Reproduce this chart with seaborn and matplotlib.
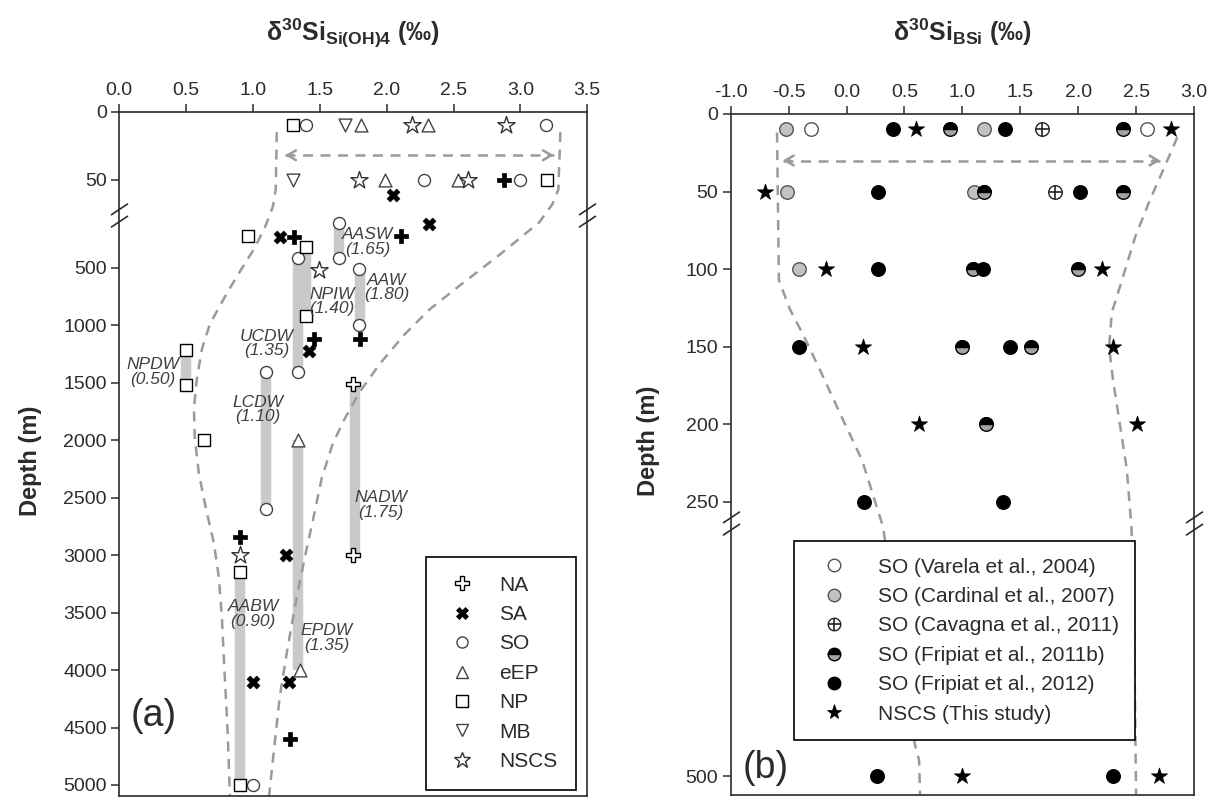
import numpy as np
import matplotlib
matplotlib.use("Agg")
import matplotlib.pyplot as plt
import matplotlib.transforms as mtransforms
from matplotlib.lines import Line2D
from matplotlib.markers import MarkerStyle
from matplotlib.path import Path
import seaborn as sns

# ---------------- panel (a): d30Si of dissolved Si(OH)4 ----------------
na_val = [2.88, 1.31, 2.11, 1.46, 1.80, 0.90, 1.28]
na_dep = [50, 230, 221, 1116, 1121, 2843, 4600]
na_open_val = [1.75, 1.75]
na_open_dep = [1510, 3000]
sa_val = [2.05, 2.32, 1.20, 1.42, 1.25, 1.00, 1.27]
sa_dep = [61, 123, 230, 1223, 3000, 4100, 4100]
so_val = [1.40, 3.19, 2.28, 3.00, 1.64, 1.34, 1.64, 1.79, 1.79, 1.10, 1.34, 1.10, 1.00]
so_dep = [10, 10, 50, 50, 109, 416, 416, 508, 1001, 1404, 1404, 2600, 5000]
eep_val = [1.81, 2.31, 1.99, 2.53, 1.34, 1.35]
eep_dep = [10, 10, 50, 50, 2000, 4000]
np_val = [1.30, 3.20, 0.96, 1.40, 1.40, 0.50, 0.50, 0.63, 0.90, 0.90]
np_dep = [10, 50, 221, 316, 921, 1214, 1519, 2000, 3143, 5000]
mb_val = [1.69, 1.30]
mb_dep = [10, 50]
nscs_a_val = [2.19, 2.89, 1.79, 2.61, 1.49, 0.90]
nscs_a_dep = [10, 10, 50, 50, 517, 3000]

# water masses (grey bars) and their labels
wm_names = ["AASW\n(1.65)", "NPIW\n(1.40)", "AAW\n(1.80)", "UCDW\n(1.35)", "NPDW\n(0.50)",
            "LCDW\n(1.10)", "NADW\n(1.75)", "EPDW\n(1.35)", "AABW\n(0.90)"]
wm_val = [1.64, 1.40, 1.80, 1.34, 0.50, 1.10, 1.76, 1.34, 0.90]
wm_top = [109, 316, 508, 416, 1214, 1404, 1510, 2000, 3143]
wm_bot = [416, 921, 1001, 1404, 1519, 2600, 3000, 4000, 5000]
wm_lab_x = [1.86, 1.59, 2.00, 1.10, 0.25, 1.035, 1.76, 1.55, 0.81]
wm_lab_d = [275, 794, 673, 1157, 1407, 1734, 2565, 3721, 3514]
wm_lab_ha = ["center", "center", "center", "center", "center", "center", "left", "center", "left"]

# dashed envelope, panel (a)
env_a_left_val = [1.178, 1.170, 1.148, 1.096, 1.013, 0.901, 0.812, 0.737, 0.677, 0.618,
                  0.580, 0.558, 0.565, 0.595, 0.647, 0.707, 0.745, 0.767, 0.789, 0.812, 0.827]
env_a_left_dep = [15, 57, 70, 129, 327, 535, 707, 863, 992, 1208,
                  1467, 1726, 1985, 2288, 2590, 2893, 3195, 3541, 4059, 4577, 5096]
env_a_right_val = [3.299, 3.284, 3.239, 3.142, 2.843, 2.507, 2.320, 2.134, 1.947, 1.798,
                   1.686, 1.597, 1.514, 1.447, 1.387, 1.327, 1.260, 1.200, 1.120]
env_a_right_dep = [15, 57, 68, 103, 388, 690, 863, 1079, 1338, 1580,
                   1813, 2029, 2331, 2702, 3022, 3368, 3800, 4231, 5096]
arrow_a_val = [1.24, 3.25]
arrow_a_dep = 32

# ---------------- panel (b): d30Si of biogenic silica ----------------
varela_val = [-0.31, 2.59]
varela_dep = [10, 10]
cardinal_val = [-0.52, 1.19, -0.51, 1.10, -0.41]
cardinal_dep = [10, 10, 50, 50, 100]
cavagna_val = [1.69, 1.80]
cavagna_dep = [10, 50]
frip11_val = [0.89, 2.39, 1.19, 2.39, 1.09, 2.00, 1.00, 1.59, 1.20]
frip11_dep = [10, 10, 50, 50, 100, 100, 150, 150, 200]
frip12_val = [0.40, 1.37, 0.27, 2.02, 0.27, 1.18, -0.41, 1.41, 0.15, 1.35, 0.26, 2.30]
frip12_dep = [10, 10, 50, 50, 100, 100, 150, 150, 250, 250, 500, 500]
nscs_b_val = [0.60, 2.80, -0.70, -0.18, 2.21, 0.14, 2.30, 0.63, 2.51, 1.00, 2.70]
nscs_b_dep = [10, 10, 50, 100, 100, 150, 150, 200, 200, 500, 500]

env_b_left_val = [-0.60, -0.584, -0.488, -0.376, -0.229, -0.056, 0.134, 0.316, 0.591, 0.626, 0.635]
env_b_left_dep = [12, 107, 126, 142, 165, 193, 223, 269, 471, 485, 517]
env_b_right_val = [2.856, 2.752, 2.622, 2.493, 2.362, 2.29, 2.267, 2.30, 2.36, 2.42, 2.46, 2.48, 2.50]
env_b_right_dep = [15, 33, 55, 79, 111, 128, 150, 171, 200, 229, 269, 336, 517]
arrow_b_val = [-0.55, 2.71]
arrow_b_dep = 30

# broken depth axes: piecewise linear scales
knots_a_dep = [-1000, 0, 79.16, 10000]
knots_a_t = [-1360, 0, 107.66, 98.56 + 0.11489 * 10000]
knots_b_dep = [-1000, 0, 260, 2000]
knots_b_t = [-1552, 0, 403.5, 403.5 + 1740 * 1.078]

GREY_LINE = "#9a9a9a"
BAR = "#c9c9c9"
INK = "#2b2b2b"

sns.set_style("ticks")
plt.rcParams["font.family"] = ["Liberation Sans", "DejaVu Sans"]
plt.rcParams["mathtext.default"] = "regular"


def piecewise_scale(kd, kt):
    fwd = lambda d: np.interp(d, kd, kt)
    inv = lambda t: np.interp(t, kt, kd)
    return fwd, inv


def dots(ax, xs, ds, marker, face, edge="black", size=70, lw=1.0, z=4):
    if MarkerStyle(marker).is_filled():
        sns.scatterplot(x=xs, y=ds, ax=ax, marker=marker, s=size, facecolor=face,
                        edgecolor=edge, linewidth=lw, zorder=z, legend=False)
    else:
        sns.scatterplot(x=xs, y=ds, ax=ax, marker=marker, s=size, color=face,
                        linewidth=lw, zorder=z, legend=False)


def style_axis(ax, xlim, xticks, ylim, yticks, knots, title):
    fwd, inv = piecewise_scale(*knots)
    ax.set_yscale("function", functions=(fwd, inv))
    ax.set_xlim(*xlim)
    ax.set_ylim(*ylim)
    ax.set_xticks(xticks, [f"{v:.1f}" for v in xticks])
    ax.set_yticks(yticks, [str(v) for v in yticks])
    ax.xaxis.tick_top()
    ax.xaxis.set_label_position("top")
    ax.tick_params(axis="both", direction="out", length=6, width=1.1,
                   labelsize=14, colors=INK, pad=3)
    ax.minorticks_off()
    for s in ax.spines.values():
        s.set_visible(True)
        s.set_linewidth(1.2)
        s.set_color(INK)
    ax.set_xlabel(title, fontsize=18, fontweight="bold", color=INK)
    ax.set_ylabel("Depth (m)", fontsize=17, fontweight="bold", color=INK)


def break_marks(ax, dep):
    verts = [(-9, 0.5), (9, 12.5), (-9, -12.5), (9, -0.5)]
    codes = [Path.MOVETO, Path.LINETO, Path.MOVETO, Path.LINETO]
    trans = mtransforms.blended_transform_factory(ax.transAxes, ax.transData)
    ax.plot([0, 1], [dep, dep], transform=trans, linestyle="none",
            marker=Path(verts, codes), markersize=17, markeredgewidth=1.2,
            color=INK, clip_on=False, zorder=6)


def dashed_arrow(ax, xs, dep):
    ax.plot(xs, [dep, dep], color=GREY_LINE, lw=1.8, ls=(0, (4, 3)), zorder=2)
    span = xs[1] - xs[0]
    for a, b in [(xs[0], xs[0] + 0.02 * span), (xs[1], xs[1] - 0.02 * span)]:
        ax.annotate("", xy=(a, dep), xytext=(b, dep),
                    arrowprops=dict(arrowstyle="->,head_length=0.6,head_width=0.35",
                                    color=GREY_LINE, lw=1.8, shrinkA=0, shrinkB=0),
                    zorder=2)


fig = plt.figure(figsize=(12.26, 7.98), dpi=100)
ax_a = fig.add_axes([0.0973, 0.0025, 0.3817, 0.8575])
ax_b = fig.add_axes([0.596, 0.0038, 0.3779, 0.8534])

# ---------------- panel (a) ----------------
style_axis(ax_a, (0, 3.5), [0, 0.5, 1.0, 1.5, 2.0, 2.5, 3.0, 3.5], (5096, 0),
           [0, 50, 500, 1000, 1500, 2000, 2500, 3000, 3500, 4000, 4500, 5000],
           (knots_a_dep, knots_a_t), r"$\delta^{30}Si_{Si(OH)4}$ (‰)")

ax_a.vlines(wm_val, wm_top, wm_bot, colors=BAR, linewidth=7.5, zorder=1)
ax_a.plot(env_a_left_val, env_a_left_dep, color=GREY_LINE, lw=1.8, ls=(0, (4, 3)), zorder=2)
ax_a.plot(env_a_right_val, env_a_right_dep, color=GREY_LINE, lw=1.8, ls=(0, (4, 3)), zorder=2)
dashed_arrow(ax_a, arrow_a_val, arrow_a_dep)

dots(ax_a, na_val, na_dep, "P", "black", size=95, lw=0.5)
dots(ax_a, na_open_val, na_open_dep, "P", "white", size=95, lw=1.0)
dots(ax_a, sa_val, sa_dep, "X", "black", size=85, lw=0.5)
dots(ax_a, so_val, so_dep, "o", "white", edge="#444444", size=75)
dots(ax_a, eep_val, eep_dep, "^", "white", edge="#444444", size=85)
dots(ax_a, np_val, np_dep, "s", "white", edge="black", size=75)
dots(ax_a, mb_val, mb_dep, "v", "white", edge="#444444", size=85)
dots(ax_a, nscs_a_val, nscs_a_dep, "*", "white", edge="#333333", size=170)

for name, x, d, ha in zip(wm_names, wm_lab_x, wm_lab_d, wm_lab_ha):
    ax_a.text(x, d, name, ha=ha, va="center", multialignment="center", fontsize=12.5,
              style="italic", color="#404040", linespacing=0.95, zorder=5)

break_marks(ax_a, 76)
ax_a.text(0.025, 0.117, "(a)", transform=ax_a.transAxes, fontsize=27,
          va="center", ha="left", color=INK)

leg_a = [
    Line2D([], [], ls="none", marker="P", ms=10, mfc="white", mec="black", mew=1.0),
    Line2D([], [], ls="none", marker="X", ms=9, mfc="black", mec="black", mew=0.5),
    Line2D([], [], ls="none", marker="o", ms=8, mfc="white", mec="#444444", mew=1.0),
    Line2D([], [], ls="none", marker="^", ms=9, mfc="white", mec="#444444", mew=1.0),
    Line2D([], [], ls="none", marker="s", ms=8.5, mfc="white", mec="black", mew=1.0),
    Line2D([], [], ls="none", marker="v", ms=9, mfc="white", mec="#444444", mew=1.0),
    Line2D([], [], ls="none", marker="*", ms=12, mfc="white", mec="#333333", mew=1.0),
]
lg = ax_a.legend(leg_a, ["NA", "SA", "SO", "eEP", "NP", "MB", "NSCS"], loc="lower right",
                 bbox_to_anchor=(0.976, 0.009), fontsize=15, frameon=True, fancybox=False,
                 edgecolor="black", framealpha=1, labelspacing=0.5, handletextpad=1.0,
                 borderpad=0.9, handlelength=1.6, borderaxespad=0)
lg.get_frame().set_linewidth(1.2)
for t in lg.get_texts():
    t.set_color(INK)

# ---------------- panel (b) ----------------
style_axis(ax_b, (-1.0, 3.0), [-1.0, -0.5, 0.0, 0.5, 1.0, 1.5, 2.0, 2.5, 3.0], (517.4, 0),
           [0, 50, 100, 150, 200, 250, 500],
           (knots_b_dep, knots_b_t), r"$\delta^{30}Si_{BSi}$ (‰)")

ax_b.plot(env_b_left_val, env_b_left_dep, color=GREY_LINE, lw=1.8, ls=(0, (4, 3)), zorder=2)
ax_b.plot(env_b_right_val, env_b_right_dep, color=GREY_LINE, lw=1.8, ls=(0, (4, 3)), zorder=2)
dashed_arrow(ax_b, arrow_b_val, arrow_b_dep)

dots(ax_b, varela_val, varela_dep, "o", "white", edge="#555555", size=95)
dots(ax_b, cardinal_val, cardinal_dep, "o", "#c2c2c2", edge="#555555", size=95)
dots(ax_b, cavagna_val, cavagna_dep, "o", "white", edge="#222222", size=95)
dots(ax_b, cavagna_val, cavagna_dep, "+", "#222222", size=95, lw=1.2, z=5)
dots(ax_b, frip11_val, frip11_dep, "o", "#a3a3a3", edge="black", size=95)
dots(ax_b, frip11_val, frip11_dep, MarkerStyle("o", fillstyle="top"), "black",
     edge="black", size=95, z=5)
dots(ax_b, frip12_val, frip12_dep, "o", "black", edge="black", size=95)
dots(ax_b, nscs_b_val, nscs_b_dep, "*", "black", edge="black", size=150, lw=0.5)

break_marks(ax_b, 265)
ax_b.text(0.025, 0.04, "(b)", transform=ax_b.transAxes, fontsize=27,
          va="center", ha="left", color=INK)

leg_b = [
    Line2D([], [], ls="none", marker="o", ms=9, mfc="white", mec="#555555", mew=1.0),
    Line2D([], [], ls="none", marker="o", ms=9, mfc="#c2c2c2", mec="#555555", mew=1.0),
    (Line2D([], [], ls="none", marker="o", ms=9, mfc="white", mec="#222222", mew=1.0),
     Line2D([], [], ls="none", marker="+", ms=9, mec="#222222", mew=1.2)),
    Line2D([], [], ls="none", marker="o", ms=9, fillstyle="top", mfc="black",
           mfcalt="#a3a3a3", mec="black", mew=1.0),
    Line2D([], [], ls="none", marker="o", ms=9, mfc="black", mec="black", mew=1.0),
    Line2D([], [], ls="none", marker="*", ms=11, mfc="black", mec="black", mew=0.5),
]
lg = ax_b.legend(leg_b, ["SO (Varela et al., 2004)", "SO (Cardinal et al., 2007)",
                         "SO (Cavagna et al., 2011)", "SO (Fripiat et al., 2011b)",
                         "SO (Fripiat et al., 2012)", "NSCS (This study)"],
                 loc="upper left", bbox_to_anchor=(0.137, 0.373), fontsize=15, frameon=True,
                 fancybox=False, edgecolor="black", framealpha=1, labelspacing=0.5,
                 handletextpad=1.0, borderpad=0.8, handlelength=2.2, borderaxespad=0)
lg.get_frame().set_linewidth(1.2)
for t in lg.get_texts():
    t.set_color(INK)

ax_a.xaxis.set_label_coords(0.5, 1.104)
ax_b.xaxis.set_label_coords(0.5, 1.107)
ax_a.yaxis.set_label_coords(-0.165, 0.49)
ax_b.yaxis.set_label_coords(-0.153, 0.52)

fig.savefig("out.png", dpi=100)
